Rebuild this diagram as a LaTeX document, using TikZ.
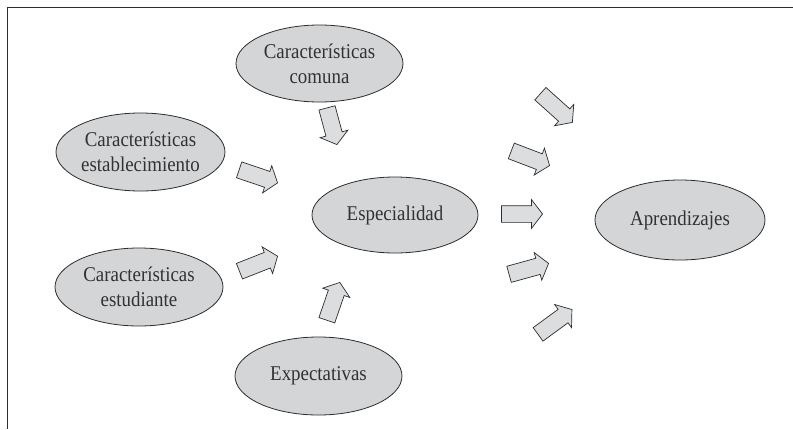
\documentclass[tikz,border=0pt]{standalone}
\usepackage{fontspec}
\setmainfont{Liberation Serif}[FakeStretch=0.9]
\usetikzlibrary{shapes.geometric,shapes.arrows}
\definecolor{ellfill}{RGB}{212,213,215}
\definecolor{arrfill}{RGB}{220,221,223}
\definecolor{edge}{RGB}{45,45,45}
\definecolor{txt}{RGB}{50,50,50}
\tikzset{
  oval/.style={ellipse, draw=edge, fill=ellfill, line width=0.8pt, inner sep=0pt,
    align=center, text=txt, font=\fontsize{21}{25}\selectfont},
  blockarrow/.style={single arrow, draw=edge, fill=arrfill, line width=0.7pt,
    inner xsep=0pt, inner ysep=8pt, single arrow head extend=6pt,
    single arrow tip angle=105, minimum width=28pt, anchor=tip}
}
\begin{document}
\begin{tikzpicture}[x=1pt,y=-1pt]
\useasboundingbox (0,0) rectangle (793,429);
\coordinate (fl) at (7,429);
\coordinate (fc) at (7,7);
\coordinate (fr) at (793,7);
\draw[edge, line width=0.8pt] (fl) -- (fc) -- (fr);

\node[oval, minimum width=167pt, minimum height=77pt] (comuna) at (319.5,63.5) {Características\\comuna};
\node[oval, minimum width=169pt, minimum height=78pt] (estab) at (140.5,152) {Características\\establecimiento};
\node[oval, minimum width=168pt, minimum height=78pt] (estud) at (139,287) {Características\\estudiante};
\node[oval, minimum width=167pt, minimum height=78pt] (expec) at (318.5,376) {Expectativas};
\node[oval, minimum width=166pt, minimum height=76pt] (espec) at (395,215) {Especialidad};
\node[oval, minimum width=170pt, minimum height=80pt] (apren) at (680,220) {Aprendizajes};

\node[blockarrow, rotate=-74.9, minimum height=38pt] (a1) at (337,145) {};
\node[blockarrow, rotate=-18.7, minimum height=40.6pt] (a2) at (278,183) {};
\node[blockarrow, rotate=21.5, minimum height=41pt] (a3) at (278,256) {};
\node[blockarrow, rotate=71, minimum height=40pt] (a4) at (340,282) {};
\node[blockarrow, rotate=-41.9, minimum height=43pt] (a5) at (572.7,122.7) {};
\node[blockarrow, rotate=-20.9, minimum height=41pt] (a6) at (550,165.7) {};
\node[blockarrow, rotate=0, minimum height=41pt] (a7) at (543,214) {};
\node[blockarrow, rotate=15.4, minimum height=41pt] (a8) at (549,263.3) {};
\node[blockarrow, rotate=36.2, minimum height=42pt] (a9) at (572.3,309.3) {};
\end{tikzpicture}
\end{document}
